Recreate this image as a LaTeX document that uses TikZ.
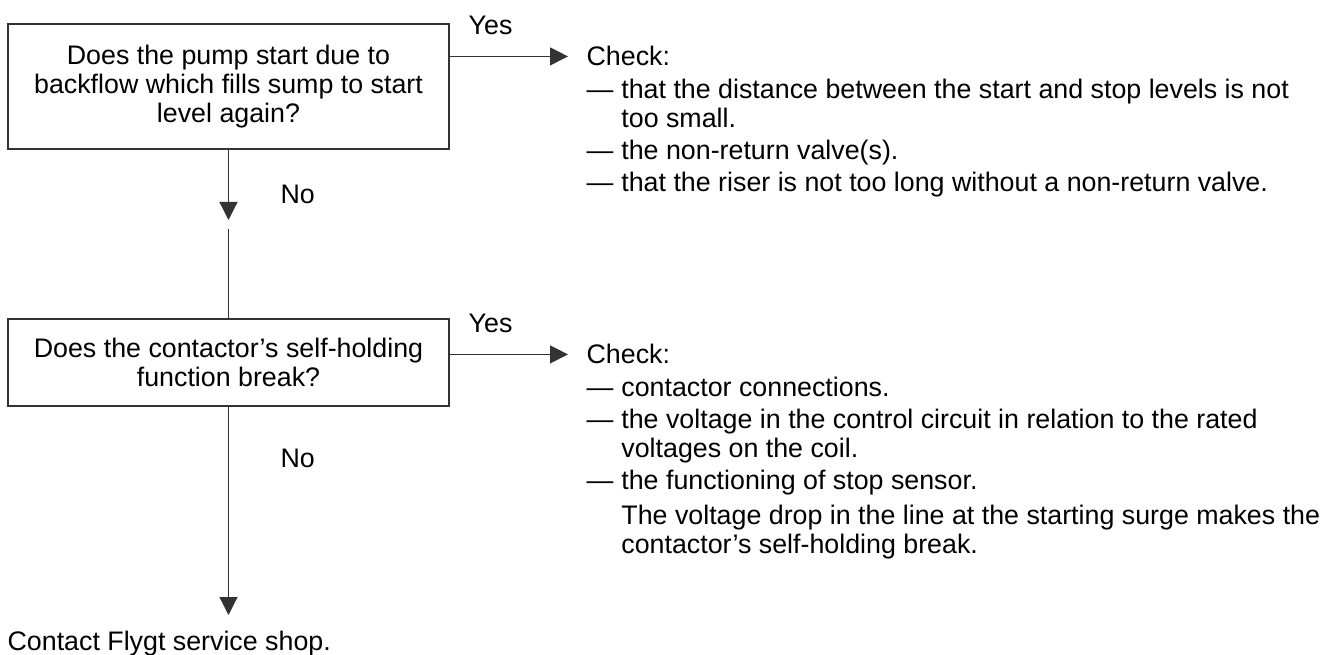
\documentclass[tikz,border=0pt]{standalone}
\usepackage{fontspec}
\setmainfont{Liberation Sans}
\usetikzlibrary{arrows.meta,positioning}
\tikzset{
	qbox/.style={draw, line width=1pt, align=center, inner sep=0pt, minimum width=330.75pt},
	chk/.style={inner sep=0pt, anchor=base west},
	lbl/.style={inner sep=0pt},
	lst/.style={inner sep=0pt}
}
\newcommand{\isep}{2.6pt}

\begin{document}
\begin{tikzpicture}[x=0.75pt, y=-0.75pt, ->, >={Triangle[length=13.5pt,width=13.5pt]},
		line width=0.9pt, color=black!80, text=black, font=\fontsize{20.1}{21.6}\selectfont]
		\useasboundingbox (0,0) rectangle (1335,655);
		\node[qbox, minimum height=93.75pt] (q1) at (228.5,86.5) {Does the pump start due to\\backflow which fills sump to start\\level again?};
		\node[qbox, minimum height=65.25pt] (q2) at (228.5,362.5) {Does the contactor’s self-holding\\function break?};
		\node[chk] (c1) at (586,66) {Check:};
		\node[chk] (c2) at (586,364) {Check:};
		\node[lst, below=8pt of c1.south west, anchor=north west] (l1) {\begin{tabular}{@{}l@{\hspace{6pt}}l@{}}
				— & that the distance between the start and stop levels is not \\
				  & too small. \\[\isep]
				— & the non-return valve(s). \\[\isep]
				— & that the riser is not too long without a non-return valve.
			\end{tabular}};
		\node[lst, below=8pt of c2.south west, anchor=north west] (l2) {\begin{tabular}{@{}l@{\hspace{6pt}}l@{}}
				— & contactor connections. \\[\isep]
				— & the voltage in the control circuit in relation to the rated \\
				  & voltages on the coil. \\[\isep]
				— & the functioning of stop sensor. \\[4.5pt]
				  & The voltage drop in the line at the starting surge makes the \\
				  & contactor’s self-holding break.
			\end{tabular}};
		\node[chk] (ct) at (7,650) {Contact Flygt service shop.};
		\coordinate (t1) at (228.5,220);
		\coordinate (g1) at (228.5,229);
		\coordinate (t2) at (228.5,615);
		\path (q1.east |- c1) edge[shorten >=13.5pt] node[lbl, pos=0.3, above=16pt] {Yes} (c1.west);
		\path (q2.east |- c2) edge[shorten >=13.5pt] node[lbl, pos=0.3, above=16pt] {Yes} (c2.west);
		\path (q1.south) edge node[lbl, pos=0.64, right=38.6pt] {No} (t1);
		\draw[-] (g1) -- (q2.north);
		\path (q2.south) edge node[lbl, pos=0.25, right=38.6pt] {No} (t2);
	\end{tikzpicture}
\end{document}
